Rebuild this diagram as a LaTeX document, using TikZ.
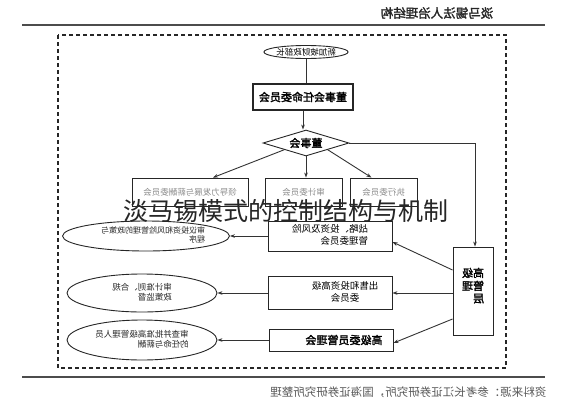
\documentclass[tikz,border=0pt]{standalone}
\usepackage{fontspec}
\usepackage{graphicx}
\setmainfont{Noto Sans CJK SC}
\newfontfamily\cjkb[FakeBold=2]{Noto Sans CJK SC}
\usetikzlibrary{shapes.geometric,arrows.meta,calc}
\newcommand{\mirtxt}[1]{\reflectbox{\def\arraystretch{0.95}\begin{tabular}{@{}l@{}}#1\end{tabular}}}
\newcommand{\mirctr}[1]{\reflectbox{\def\arraystretch{0.95}\begin{tabular}{@{}c@{}}#1\end{tabular}}}
\begin{document}
\begin{tikzpicture}[x=1pt,y=-1pt,
  box/.style={draw=black!85,line width=0.9pt,rectangle,inner sep=0pt},
  ellnode/.style={draw=black!85,line width=0.9pt,ellipse,inner sep=0pt},
  conn/.style={draw=black!80,line width=0.9pt},
  arr/.style={conn,-{Stealth[length=5pt,width=3.6pt]}},
  rule/.style={draw=black!70,line width=1.4pt},
  smalltxt/.style={font=\fontsize{8.5}{10}\selectfont,text=black!85},
  greytxt/.style={font=\fontsize{8.5}{10}\selectfont,text=black!45}]
\useasboundingbox[fill=white] (0,0) rectangle (565,400);
% header and footer
\node[font=\cjkb\fontsize{12.5}{14}\selectfont,text=black!85] (title) at (437,13) {\reflectbox{淡马锡法人治理结构}};
\draw[rule] (22,25) -- (545,25);
\draw[rule] (22,377) -- (545,377);
\node[font=\fontsize{11.5}{13}\selectfont,text=black!65,anchor=east] (src) at (550,392) {\reflectbox{资料来源：参考长江证券研究所，国海证券研究所整理}};
% dashed frame
\draw[draw=black!85,line width=1.2pt,dash pattern=on 4pt off 3pt] (58,35) rectangle (506,368);
% top column
\node[ellnode,minimum width=83pt,minimum height=13pt,font=\fontsize{8.5}{10}\selectfont] (fin) at (306,52) {\reflectbox{新加坡财政部长}};
\node[box,line width=1.2pt,minimum width=100pt,minimum height=26pt,font=\cjkb\fontsize{11}{13}\selectfont] (nom) at (303,97) {\reflectbox{董事会任命委员会}};
\node[draw=black!85,line width=0.9pt,diamond,aspect=3.4,inner sep=0pt,minimum width=86pt,minimum height=26pt,font=\cjkb\fontsize{11}{13}\selectfont] (dia) at (306,143) {\reflectbox{董事会}};
% committees
\node[box,minimum width=116pt,minimum height=28pt,greytxt] (lbox) at (190,192) {\reflectbox{领导力发展与薪酬委员会}};
\node[box,minimum width=77pt,minimum height=28pt,greytxt] (mbox) at (303.5,192) {\reflectbox{审计委员会}};
\node[box,minimum width=67pt,minimum height=28pt,greytxt] (rbox) at (383.5,192) {\reflectbox{执行委员会}};
% middle boxes
\node[box,minimum width=124pt,minimum height=30pt,font=\fontsize{9.5}{11}\selectfont] (b1) at (330,236) {\mirtxt{战略、投资及风险\\管理委员会}};
\node[box,minimum width=124pt,minimum height=33pt,font=\fontsize{9.5}{11}\selectfont] (b2) at (330,293) {\hspace*{30pt}\mirctr{出售和投资高级\\委员会}};
\node[box,minimum width=124pt,minimum height=22pt,font=\cjkb\fontsize{11}{13}\selectfont] (b3) at (331,340) {\hspace*{26pt}\reflectbox{高级委员管理会}};
% management
\node[box,minimum width=40pt,minimum height=88pt,font=\cjkb\fontsize{11}{13}\selectfont] (mgmt) at (473,291) {\mirtxt{高级\\管理\\层\\[8pt]}};
% ellipses
\node[ellnode,minimum width=148pt,minimum height=30pt,font=\fontsize{8}{9.5}\selectfont,text=black!85] (e1) at (146,236) {\hspace*{14pt}\mirtxt{审议投资和风险管理的政策与\\程序}};
\node[ellnode,minimum width=150pt,minimum height=38pt,smalltxt] (e2) at (142,293) {\mirtxt{审计准则、合规\\政策监督}};
\node[ellnode,minimum width=150pt,minimum height=40pt,smalltxt] (e3) at (142,340) {\mirtxt{审查并批准高级管理人员\\的任命与薪酬}};
% connectors
\draw[conn] (fin.south) -- (fin.south |- nom.north);
\draw[arr] (nom.south) -- (nom.south |- dia.north);
\draw[arr] ($(dia.west)!0.5!(dia.south)$) -- ([xshift=23pt]lbox.north);
\draw[arr] (dia.south) -- (dia.south |- mbox.north);
\draw[arr] ($(dia.east)!0.5!(dia.south)$) -- ([xshift=-12pt]rbox.north);
\draw[arr] (dia.east) -| ([xshift=2pt]mgmt.north);
\draw[arr] ([yshift=21pt]mgmt.west) -- ([yshift=-6pt]b1.east);
\draw[arr] (b2.east -| mgmt.west) -- (b2.east);
\draw[arr] ([yshift=-28pt]mgmt.west) -- ([yshift=-3pt]b3.east);
\draw[arr] (b1.west) -- (e1.east);
\draw[arr] (b2.west) -- (e2.east);
\draw[arr] (b3.west) -- (e3.east);
% overlay caption
\node[font=\fontsize{25}{27}\selectfont,text=black!85] (cap) at (286,211) {淡马锡模式的控制结构与机制};
\end{tikzpicture}
\end{document}
